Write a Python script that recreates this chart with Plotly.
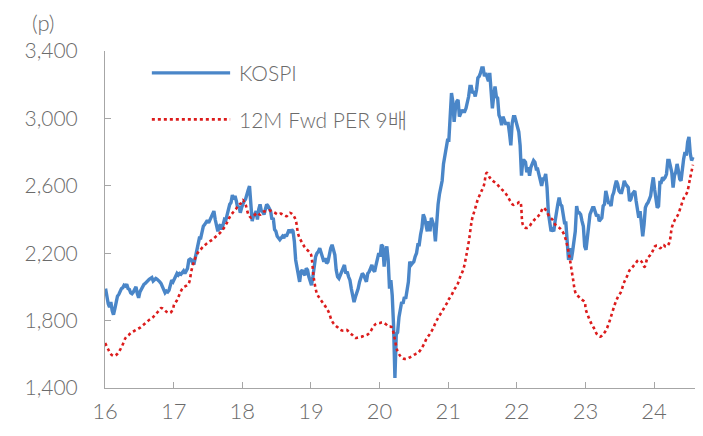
import pandas as pd
import plotly.graph_objects as go

# KOSPI, weekly closes (p)
kospi_2016 = [1990, 1930, 1900, 1880, 1910, 1860, 1835, 1870, 1920, 1945, 1955, 1975, 1990,
              1995, 2010, 2005, 2015, 1990, 1985, 1965, 1960, 1970, 1985, 2000, 1960, 1935,
              1970, 1985, 2010, 2015, 2020, 2030, 2040, 2045, 2050, 2055, 2035, 2040, 2050,
              2045, 2040, 2030, 2020, 2005, 1990, 1965, 1975, 1970, 1980, 2020, 2040, 2030]
kospi_2017 = [2050, 2065, 2080, 2070, 2080, 2075, 2085, 2095, 2080, 2095, 2110, 2160, 2165,
              2160, 2140, 2140, 2175, 2200, 2240, 2290, 2290, 2340, 2360, 2370, 2380, 2395,
              2380, 2400, 2415, 2440, 2450, 2400, 2370, 2330, 2360, 2370, 2340, 2380, 2400,
              2395, 2430, 2475, 2490, 2500, 2545, 2520, 2540, 2510, 2470, 2480, 2440, 2470]
kospi_2018 = [2500, 2510, 2520, 2560, 2575, 2598, 2490, 2390, 2420, 2430, 2450, 2400, 2460,
              2490, 2450, 2445, 2430, 2470, 2490, 2480, 2460, 2450, 2400, 2410, 2340, 2330,
              2300, 2290, 2280, 2290, 2300, 2290, 2310, 2300, 2320, 2340, 2320, 2340, 2330,
              2270, 2160, 2110, 2060, 2030, 2090, 2100, 2080, 2070, 2110, 2100, 2060, 2040]
kospi_2019 = [2010, 2060, 2120, 2180, 2200, 2210, 2230, 2200, 2180, 2150, 2170, 2140, 2150,
              2200, 2230, 2250, 2220, 2190, 2100, 2060, 2050, 2070, 2100, 2120, 2130, 2080,
              2090, 2060, 2040, 1990, 1940, 1910, 1940, 1960, 1990, 2030, 2050, 2080, 2070,
              2050, 2030, 2080, 2090, 2110, 2130, 2100, 2090, 2130, 2170, 2200]
kospi_2020 = [2180, 2250, 2240, 2120, 2210, 2240, 2160, 1990, 2040, 1950, 1770, 1460, 1720,
              1730, 1820, 1860, 1910, 1900, 1940, 1930, 1970, 2030, 2150, 2130, 2140, 2150,
              2180, 2200, 2250, 2250, 2310, 2350, 2430, 2410, 2370, 2330, 2390, 2330, 2410,
              2390, 2360, 2270, 2420, 2490, 2550, 2600, 2630, 2730, 2770, 2820, 2870]
kospi_2021 = [2870, 2990, 3150, 3100, 2980, 3060, 3100, 3110, 3010, 3030, 3050, 3040, 3040,
              3060, 3090, 3130, 3190, 3190, 3150, 3160, 3130, 3170, 3240, 3250, 3270, 3300,
              3300, 3250, 3270, 3250, 3220, 3270, 3170, 3060, 3130, 3190, 3130, 3120, 3020,
              3000, 2960, 3010, 2990, 2970, 2970, 2970, 2910, 2840, 2970, 3010, 3010, 2980]
kospi_2022 = [2950, 2920, 2840, 2660, 2750, 2750, 2740, 2680, 2710, 2660, 2710, 2730, 2750,
              2740, 2700, 2700, 2670, 2640, 2600, 2640, 2640, 2670, 2590, 2440, 2370, 2330,
              2340, 2330, 2390, 2450, 2490, 2530, 2490, 2480, 2410, 2380, 2380, 2290, 2160,
              2230, 2160, 2210, 2270, 2330, 2480, 2440, 2440, 2430, 2390, 2360, 2240]
kospi_2023 = [2220, 2290, 2390, 2430, 2450, 2470, 2470, 2450, 2420, 2430, 2390, 2400, 2410,
              2480, 2490, 2570, 2540, 2500, 2500, 2480, 2540, 2560, 2600, 2630, 2610, 2570,
              2560, 2560, 2590, 2630, 2610, 2600, 2590, 2510, 2520, 2550, 2560, 2570, 2510,
              2470, 2410, 2450, 2380, 2300, 2370, 2470, 2490, 2500, 2520, 2540, 2600, 2650]
kospi_2024 = [2580, 2530, 2470, 2480, 2620, 2620, 2650, 2640, 2650, 2670, 2750, 2750, 2710,
              2680, 2590, 2660, 2680, 2730, 2690, 2640, 2630, 2720, 2760, 2800, 2780, 2860,
              2890, 2790, 2750, 2770]

# 12M Fwd PER 9x line, twice a month (p)
per_2016 = [1667, 1630, 1600, 1590, 1600, 1625, 1660, 1700, 1715, 1730, 1740, 1750,
            1760, 1775, 1790, 1805, 1816, 1835, 1855, 1875, 1865, 1850, 1845, 1870]
per_2017 = [1893, 1920, 1960, 1994, 2005, 2020, 2101, 2160, 2200, 2220, 2240, 2255,
            2268, 2280, 2295, 2310, 2327, 2350, 2380, 2416, 2440, 2460, 2487, 2500]
per_2018 = [2517, 2490, 2430, 2410, 2425, 2440, 2428, 2445, 2450, 2455, 2448, 2440,
            2430, 2435, 2425, 2420, 2440, 2430, 2400, 2309, 2270, 2240, 2220, 2200]
per_2019 = [2190, 2042, 1960, 1930, 1905, 1880, 1850, 1800, 1775, 1760, 1745, 1740,
            1745, 1730, 1715, 1697, 1700, 1703, 1710, 1715, 1730, 1760, 1780, 1786]
per_2020 = [1786, 1790, 1780, 1765, 1762, 1700, 1620, 1590, 1575, 1572, 1580, 1590,
            1600, 1608, 1630, 1660, 1697, 1720, 1750, 1790, 1822, 1850, 1880, 1910]
per_2021 = [1923, 1950, 1985, 2012, 2060, 2101, 2180, 2279, 2400, 2460, 2520, 2560,
            2600, 2677, 2650, 2630, 2618, 2600, 2580, 2565, 2540, 2510, 2487, 2495]
per_2022 = [2495, 2505, 2368, 2350, 2355, 2380, 2400, 2416, 2440, 2470, 2450, 2416,
            2400, 2370, 2357, 2340, 2310, 2250, 2160, 2050, 1960, 1941, 1925, 1911]
per_2023 = [1870, 1820, 1780, 1750, 1715, 1705, 1720, 1745, 1790, 1845, 1900, 1941,
            1970, 2024, 2060, 2100, 2119, 2140, 2160, 2150, 2119, 2170, 2190, 2220]
per_2024 = [2238, 2245, 2230, 2250, 2238, 2260, 2357, 2400, 2428, 2480, 2530, 2559,
            2640, 2725]

years = [2016, 2017, 2018, 2019, 2020, 2021, 2022, 2023, 2024]
kospi_by_year = [kospi_2016, kospi_2017, kospi_2018, kospi_2019, kospi_2020,
                 kospi_2021, kospi_2022, kospi_2023, kospi_2024]
per_by_year = [per_2016, per_2017, per_2018, per_2019, per_2020,
               per_2021, per_2022, per_2023, per_2024]
tick_labels = ["16", "17", "18", "19", "20", "21", "22", "23", "24"]
LAST_DAY = "2024-07-26"


def spread(year, values, first_day):
    # spread a year's readings evenly across that year
    end = LAST_DAY if year == 2024 else f"{year}-12-28"
    return pd.date_range(f"{year}-{first_day}", end, periods=len(values))


kospi_x, kospi_y, per_x, per_y = [], [], [], []
for yr, kv, pv in zip(years, kospi_by_year, per_by_year):
    kospi_x += list(spread(yr, kv, "01-04"))
    kospi_y += kv
    per_x += list(spread(yr, pv, "01-02"))
    per_y += pv

FONT = "Lato, Noto Sans CJK KR"
GREY = "#6b6b6b"
AXIS = "#a6a6a6"
BLUE = "#4A86C8"
RED = "#DC1C1C"

fig = go.Figure()
fig.add_trace(go.Scatter(x=kospi_x, y=kospi_y, mode="lines", name="KOSPI",
                         line=dict(color=BLUE, width=3.4)))
fig.add_trace(go.Scatter(x=per_x, y=per_y, mode="lines", name="12M Fwd PER 9배",
                         line=dict(color=RED, width=2.6, dash="dot", shape="spline")))

# hand-made legend so the sample lines are as long as in the original
legend_rows = [("KOSPI", BLUE, "solid", 3.4, 0.935), ("12M Fwd PER 9배", RED, "dot", 2.6, 0.797)]
for label, colour, dash, w, yy in legend_rows:
    fig.add_shape(type="line", xref="paper", yref="paper", x0=0.079, x1=0.211, y0=yy, y1=yy,
                  line=dict(color=colour, width=w, dash=dash))
    fig.add_annotation(text=label, xref="paper", yref="paper", x=0.222, y=yy,
                       xanchor="left", yanchor="middle", showarrow=False,
                       font=dict(family=FONT, size=21, color=GREY, weight=300))

fig.add_annotation(text="(p)", xref="paper", yref="paper", x=-0.103, y=1.085,
                   xanchor="center", yanchor="middle", showarrow=False,
                   font=dict(family=FONT, size=22, color=GREY, weight=300))

# the page adds an 8px body margin, so the figure is a bit smaller and shifted
fig.update_layout(
    width=695, height=428,
    margin=dict(l=97, r=5, t=43, b=48),
    paper_bgcolor="white", plot_bgcolor="white",
    showlegend=False,
    font=dict(family=FONT, color=GREY),
)
fig.update_xaxes(
    range=["2016-01-01", "2024-08-22"],
    tickvals=[f"{y}-01-01" for y in years], ticktext=tick_labels,
    showgrid=False, showline=True, linecolor=AXIS, linewidth=1,
    ticks="inside", ticklen=6, tickcolor=AXIS,
    tickfont=dict(family=FONT, size=22, color=GREY, weight=300), ticklabelstandoff=4,
)
fig.update_yaxes(
    range=[1400, 3400], tick0=1400, dtick=400, tickformat=",d",
    showgrid=False, showline=True, linecolor=AXIS, linewidth=1,
    ticks="inside", ticklen=6, tickcolor=AXIS,
    tickfont=dict(family=FONT, size=21, color=GREY, weight=300), ticklabelstandoff=22,
)

fig.write_html("out.html")
